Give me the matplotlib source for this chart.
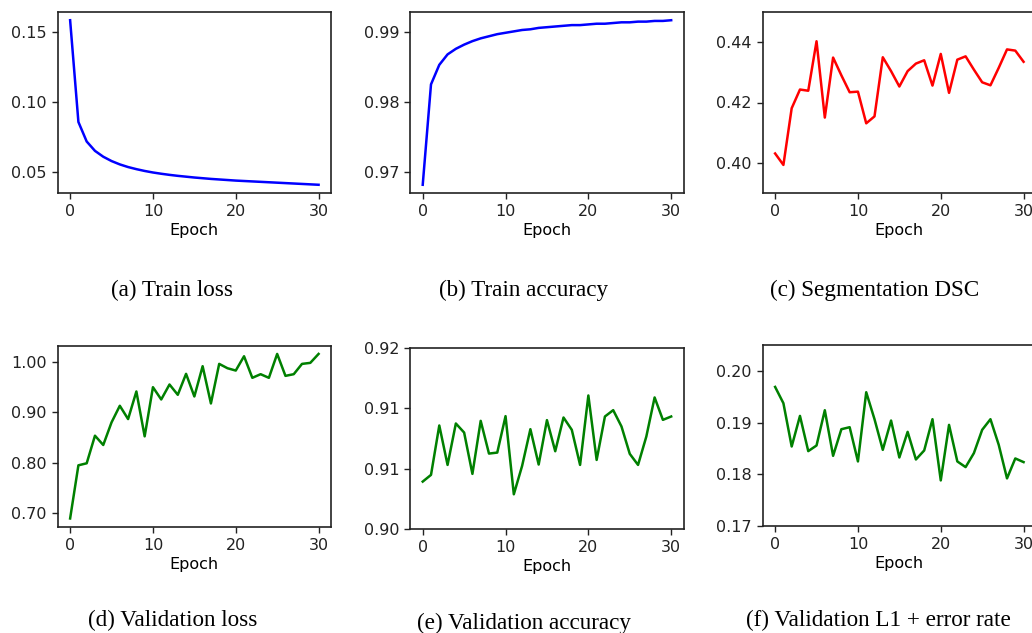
import matplotlib
matplotlib.use("Agg")
import matplotlib.pyplot as plt
from matplotlib.ticker import FormatStrFormatter, MultipleLocator, FixedLocator

epochs = list(range(31))

train_loss = [0.1586, 0.0857, 0.0717, 0.0650, 0.0608, 0.0577, 0.0553, 0.0534, 0.0519, 0.0506,
              0.0495, 0.0486, 0.0478, 0.0471, 0.0465, 0.0459, 0.0454, 0.0449, 0.0445, 0.0441,
              0.0437, 0.0434, 0.0431, 0.0428, 0.0425, 0.0422, 0.0419, 0.0416, 0.0413, 0.0410, 0.0407]

train_acc = [0.9681, 0.9825, 0.9853, 0.9868, 0.9876, 0.9882, 0.9887, 0.9891, 0.9894, 0.9897,
             0.9899, 0.9901, 0.9903, 0.9904, 0.9906, 0.9907, 0.9908, 0.9909, 0.9910, 0.9910,
             0.9911, 0.9912, 0.9912, 0.9913, 0.9914, 0.9914, 0.9915, 0.9915, 0.9916, 0.9916, 0.9917]

seg_dsc = [0.4031, 0.3993, 0.4181, 0.4243, 0.4239, 0.4403, 0.4150, 0.4349, 0.4290, 0.4234,
           0.4236, 0.4131, 0.4154, 0.4350, 0.4304, 0.4253, 0.4304, 0.4329, 0.4340, 0.4256,
           0.4361, 0.4232, 0.4342, 0.4353, 0.4309, 0.4267, 0.4257, 0.4315, 0.4376, 0.4372, 0.4335]

val_loss = [0.6895, 0.7947, 0.7987, 0.8533, 0.8349, 0.8796, 0.9125, 0.8862, 0.9408, 0.8520,
            0.9493, 0.9250, 0.9546, 0.9342, 0.9757, 0.9309, 0.9908, 0.9171, 0.9954, 0.9868,
            0.9822, 1.0105, 0.9678, 0.9750, 0.9678, 1.0151, 0.9717, 0.9750, 0.9954, 0.9974, 1.0151]

val_acc = [0.90523, 0.90597, 0.91142, 0.90707, 0.91164, 0.91064, 0.90608, 0.91193, 0.90832, 0.90843,
           0.91245, 0.90383, 0.90696, 0.91101, 0.90711, 0.91201, 0.90858, 0.91230, 0.91094, 0.90707,
           0.91473, 0.90762, 0.91241, 0.91311, 0.91131, 0.90829, 0.90707, 0.91020, 0.91451, 0.91204, 0.91241]

val_l1 = [0.19697, 0.19381, 0.18542, 0.19135, 0.18452, 0.18561, 0.19245, 0.18361, 0.18877, 0.18916,
          0.18252, 0.19594, 0.19071, 0.18477, 0.19045, 0.18329, 0.18826, 0.18290, 0.18465, 0.19071,
          0.17884, 0.18961, 0.18252, 0.18142, 0.18413, 0.18865, 0.19071, 0.18574, 0.17923, 0.18310, 0.18239]

val_acc_ticks = [0.90, 0.90667, 0.91333, 0.92]

captions = ["(a) Train loss", "(b) Train accuracy", "(c) Segmentation DSC",
            "(d) Validation loss", "(e) Validation accuracy", "(f) Validation L1 + error rate"]

W, H = 1032, 633
fig = plt.figure(figsize=(W / 100, H / 100), dpi=100)
fig.patch.set_facecolor("white")

def px_axes(left, top, bottom, width=273.3):
    return fig.add_axes([left / W, 1 - bottom / H, width / W, (bottom - top) / H])

specs = [
    (57.7, 12, 193, train_loss, "blue", None, 0.05),
    (410.3, 12, 193, train_acc, "blue", None, 0.01),
    (762.7, 12, 193, seg_dsc, "red", (0.39, 0.45), 0.02),
    (57.7, 345.7, 526.7, val_loss, "green", None, 0.10),
    (410.3, 347.7, 529, val_acc, "green", (0.900, 0.920), None),
    (762.7, 345, 526, val_l1, "green", (0.17, 0.2051), 0.01),
]

for (left, top, bottom, data, color, ylim, step) in specs:
    ax = px_axes(left, top, bottom)
    ax.plot(epochs, data, color=color, linewidth=1.8)
    if ylim is not None:
        ax.set_ylim(*ylim)
    if step is None:
        ax.yaxis.set_major_locator(FixedLocator(val_acc_ticks))
    else:
        ax.yaxis.set_major_locator(MultipleLocator(step))
    ax.yaxis.set_major_formatter(FormatStrFormatter("%.2f"))
    ax.set_xticks([0, 10, 20, 30])
    ax.set_xlabel("Epoch", fontsize=11.5, labelpad=3)
    ax.tick_params(labelsize=11.5, width=1.0, length=4.5, color="#222222", labelcolor="#222222")
    for s in ax.spines.values():
        s.set_linewidth(1.2)
        s.set_color("#222222")

cap_pos = [(172, 290), (524, 290), (875, 290), (173, 620), (524, 623), (878, 620)]
for (x, y), txt in zip(cap_pos, captions):
    fig.text(x / W, 1 - y / H, txt, ha="center", va="center",
             fontsize=16.7, family="Liberation Serif", color="black")

fig.savefig("out.png", dpi=100)
